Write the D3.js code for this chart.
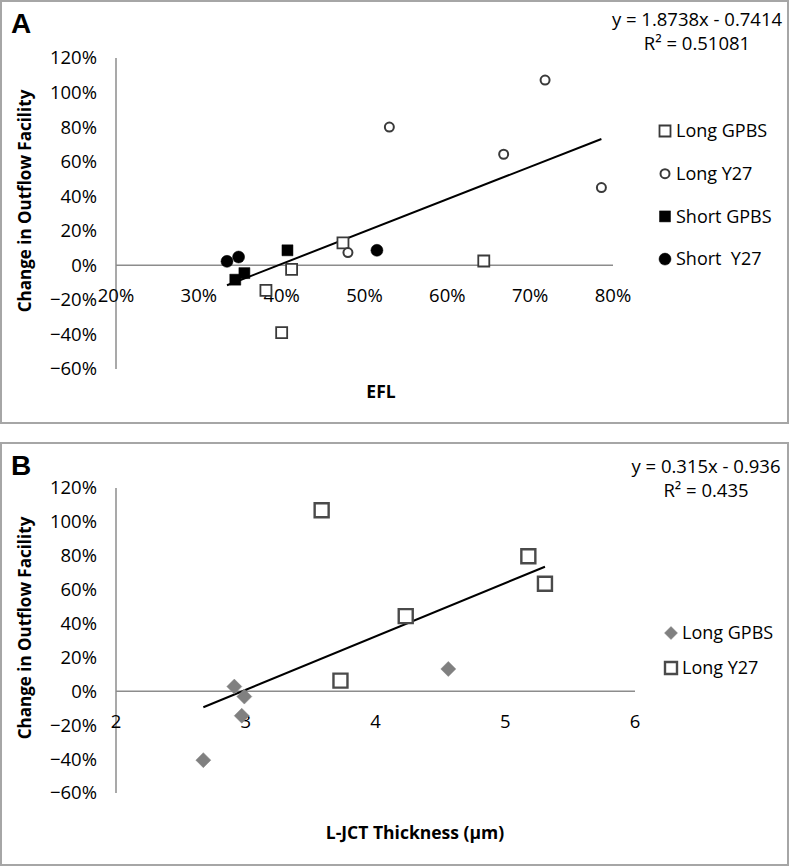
<!DOCTYPE html>
<html>
<head>
<meta charset="utf-8">
<script src="https://cdn.jsdelivr.net/npm/d3@7"></script>
<style>
  html, body { margin: 0; padding: 0; background: #fff; }
  svg text { font-family: "Open Sans", "DejaVu Sans", sans-serif; fill: #000; }
</style>
</head>
<body>
<svg id="chart" width="790" height="867"></svg>
<script>
// ---------------- DATA ----------------
// Panel A: EFL vs change in outflow facility
const eflLongGPBS_x = [0.381, 0.400, 0.412, 0.474, 0.644];
const eflLongGPBS_y = [-0.145, -0.390, -0.023, 0.130, 0.025];
const eflLongY27_x  = [0.480, 0.530, 0.668, 0.718, 0.786];
const eflLongY27_y  = [0.074, 0.800, 0.643, 1.072, 0.450];
const eflShortGPBS_x = [0.344, 0.355, 0.407];
const eflShortGPBS_y = [-0.083, -0.045, 0.087];
const eflShortY27_x  = [0.334, 0.348, 0.515];
const eflShortY27_y  = [0.023, 0.048, 0.087];
const trendA = [1.8738, -0.7414];
const eqA = ["y = 1.8738x - 0.7414", "R² = 0.51081"];
const xTicksA = [0.2, 0.3, 0.4, 0.5, 0.6, 0.7, 0.8];
const legendA = ["Long GPBS", "Long Y27", "Short GPBS", "Short  Y27"];

// Panel B: L-JCT thickness vs change in outflow facility
const ljctGPBS_x = [2.673, 2.912, 2.969, 2.989, 4.561];
const ljctGPBS_y = [-0.406, 0.028, -0.144, -0.031, 0.132];
const ljctY27_x  = [3.585, 3.730, 4.233, 5.178, 5.306];
const ljctY27_y  = [1.069, 0.063, 0.444, 0.797, 0.635];
const trendB = [0.315, -0.936];
const eqB = ["y = 0.315x - 0.936", "R² = 0.435"];
const xTicksB = [2, 3, 4, 5, 6];
const legendB = ["Long GPBS", "Long Y27"];

const yTicks = [-0.6, -0.4, -0.2, 0, 0.2, 0.4, 0.6, 0.8, 1.0, 1.2];

// ---------------- DRAW ----------------
const svg = d3.select("#chart");
const pct = d3.format(".0%");
const AX = "#8c8c8c";

function panel(cfg) {
  const g = svg.append("g");
  // border
  g.append("rect").attr("x", 1).attr("y", cfg.top + 1)
    .attr("width", 787).attr("height", cfg.h)
    .attr("fill", "none").attr("stroke", "#a6a6a6").attr("stroke-width", 2);

  g.append("text").attr("x", 11).attr("y", cfg.top + 33)
    .style("font-family", "Liberation Sans, Arial, sans-serif")
    .style("font-size", "28px").style("font-weight", "bold").text(cfg.letter);

  const x = d3.scaleLinear().domain(cfg.xDomain).range([116, cfg.xEnd]);
  const y = d3.scaleLinear().domain([-0.6, 1.2]).range([cfg.yBottom, cfg.yTop]);

  // y axis line
  g.append("line").attr("x1", x(cfg.xDomain[0])).attr("x2", x(cfg.xDomain[0]))
    .attr("y1", y(-0.6)).attr("y2", y(1.2)).attr("stroke", AX).attr("stroke-width", 1.5);
  // x axis line at 0
  g.append("line").attr("x1", x(cfg.xDomain[0])).attr("x2", x(cfg.xDomain[1]))
    .attr("y1", y(0)).attr("y2", y(0)).attr("stroke", AX).attr("stroke-width", 1.5);

  // y tick labels
  g.selectAll(".yt").data(yTicks).enter().append("text")
    .attr("x", 97).attr("y", d => y(d)).attr("dy", "0.35em")
    .attr("text-anchor", "end").style("font-size", "18.5px").text(d => pct(d));

  // x tick labels
  g.selectAll(".xt").data(cfg.xTicks).enter().append("text")
    .attr("x", d => x(d)).attr("y", y(0) + 30).attr("dy", "0.35em")
    .attr("text-anchor", "middle").style("font-size", "18.5px").text(cfg.xFmt);

  // axis titles
  g.append("text").attr("transform", `translate(31,${cfg.yTitleY}) rotate(-90)`)
    .attr("text-anchor", "middle").style("font-size", "17px").style("font-weight", "bold")
    .text("Change in Outflow Facility");
  g.append("text").attr("x", cfg.xTitleX).attr("y", cfg.xTitleY).attr("dy", "0.35em")
    .attr("text-anchor", "middle").style("font-size", "17.5px").style("font-weight", "bold")
    .text(cfg.xTitle);

  // equation
  g.selectAll(".eq").data(cfg.eq).enter().append("text")
    .attr("x", cfg.eqX).attr("y", (d, i) => cfg.top + cfg.eqY + i * 24).attr("dy", "0.35em")
    .attr("text-anchor", "middle").style("font-size", "18.5px").text(d => d);

  // trend line
  const allX = cfg.series.flatMap(s => s.x);
  const xs = d3.extent(allX);
  const line = d3.line().x(d => x(d)).y(d => y(cfg.trend[0] * d + cfg.trend[1]));
  g.append("path").attr("d", line(xs)).attr("fill", "none")
    .attr("stroke", "#000").attr("stroke-width", 2);

  // series
  cfg.series.forEach(s => {
    const pts = s.x.map((v, i) => [v, s.y[i]]);
    g.selectAll(null).data(pts).enter().append("path")
      .attr("transform", d => `translate(${x(d[0])},${y(d[1])})`)
      .attr("d", s.shape)
      .attr("fill", s.fill).attr("stroke", s.stroke).attr("stroke-width", s.sw);
  });

  // legend
  cfg.series.forEach((s, i) => {
    const ly = cfg.top + cfg.legY + i * cfg.legGap;
    g.append("path").attr("transform", `translate(${cfg.legMX},${ly})`)
      .attr("d", s.legShape || s.shape)
      .attr("fill", s.fill).attr("stroke", s.stroke).attr("stroke-width", s.sw);
    g.append("text").attr("x", cfg.legTX).attr("y", ly).attr("dy", "0.35em")
      .style("font-size", "18px").style("white-space", "pre").attr("xml:space", "preserve")
      .text(s.name);
  });
}

const sq = r => `M${-r},${-r}H${r}V${r}H${-r}Z`;
const circ = r => d3.symbol().type(d3.symbolCircle).size(Math.PI * r * r)();
const diam = r => `M0,${-r}L${r},0L0,${r}L${-r},0Z`;

panel({
  letter: "A", top: 0, h: 422,
  xDomain: [0.2, 0.8], xEnd: 613, yTop: 58, yBottom: 369,
  xTicks: xTicksA, xFmt: d => pct(d),
  yTitleY: 201, xTitle: "EFL", xTitleX: 381, xTitleY: 392,
  eq: eqA, eqX: 697, eqY: 20,
  trend: trendA,
  legY: 131, legGap: 42.7, legMX: 665, legTX: 676,
  series: [
    { name: legendA[0], x: eflLongGPBS_x, y: eflLongGPBS_y, shape: sq(5.5), fill: "#fff", stroke: "#3a3a3a", sw: 1.8 },
    { name: legendA[1], x: eflLongY27_x, y: eflLongY27_y, shape: circ(4.5), fill: "#fff", stroke: "#3a3a3a", sw: 2 },
    { name: legendA[2], x: eflShortGPBS_x, y: eflShortGPBS_y, shape: sq(5.5), fill: "#000", stroke: "#000", sw: 0.5 },
    { name: legendA[3], x: eflShortY27_x, y: eflShortY27_y, shape: circ(6), fill: "#000", stroke: "#000", sw: 0.5 }
  ]
});

panel({
  letter: "B", top: 442, h: 422,
  xDomain: [2, 6], xEnd: 635, yTop: 488, yBottom: 793,
  xTicks: xTicksB, xFmt: d => d,
  yTitleY: 628, xTitle: "L-JCT Thickness (µm)", xTitleX: 415, xTitleY: 833,
  eq: eqB, eqX: 706, eqY: 25,
  trend: trendB,
  legY: 191, legGap: 35, legMX: 671, legTX: 682,
  series: [
    { name: legendB[0], x: ljctGPBS_x, y: ljctGPBS_y, shape: diam(7.5), legShape: diam(6.5), fill: "#808080", stroke: "#808080", sw: 0.5 },
    { name: legendB[1], x: ljctY27_x, y: ljctY27_y, shape: sq(7), legShape: sq(6), fill: "#fff", stroke: "#4a4a4a", sw: 2.4 }
  ]
});
</script>
</body>
</html>
